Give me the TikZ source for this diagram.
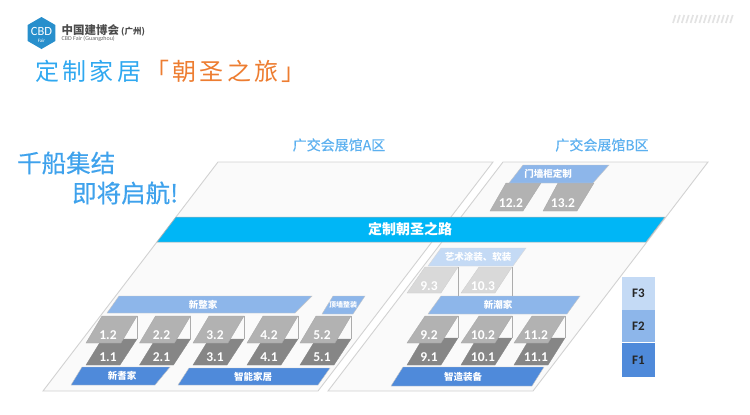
\documentclass[tikz,border=0pt]{standalone}
\usepackage{fontspec}
\setmainfont{Carlito}
\newfontfamily\cjk{Noto Sans CJK SC}
\newfontfamily\cjkmedio[FakeBold=0.4]{Noto Sans CJK SC}
\newfontfamily\cjkwide[LetterSpace=14]{Noto Sans CJK SC}
\usepackage{xcolor}
\usetikzlibrary{shapes.geometric, positioning}
\definecolor{azul_texto}{HTML}{3FA2EC}
\definecolor{azul_titulo}{HTML}{2FA8F0}
\definecolor{naranja_titulo}{HTML}{ED7D31}
\definecolor{azul_f1}{HTML}{4F8ADA}
\definecolor{azul_f2}{HTML}{8DB6EA}
\definecolor{azul_f3}{HTML}{C4DAF5}
\definecolor{azul_banda}{HTML}{00B6F6}
% Four corners, going round from the top left: style, name, x tl, x tr, x br, x bl, y top, y bottom
\newcommand{\slab}[8]{%
    \draw[#1] (#3,#7) coordinate (#2_tl) -- (#4,#7) coordinate (#2_tr) -- (#5,#8) coordinate (#2_br) -- (#6,#8) coordinate (#2_bl) -- cycle;%
}
\tikzset{
    box_suelo/.style={draw=gray!35, fill=gray!4, line width=0.9pt},
    box_banda/.style={draw=gray!60, fill=azul_banda, line width=0.5pt},
    box_f1/.style={draw=gray!45, fill=azul_f1, line width=0.4pt},
    box_f2/.style={draw=gray!45, fill=azul_f2, line width=0.4pt},
    box_f3/.style={draw=gray!30, fill=azul_f3, line width=0.4pt},
    box_oscuro/.style={fill=gray!95!white, draw=gray!95!white, line width=0.3pt},
    box_medio/.style={fill=gray!60!white, draw=gray!70, line width=0.3pt},
    box_claro/.style={fill=gray!30, draw=gray!40, line width=0.3pt},
    box_escala/.style={minimum width=33pt, inner sep=0pt, font=\fontsize{13}{13}\selectfont\bfseries, text=black!85},
    txt_zona/.style={font=\cjk\bfseries\fontsize{9.5}{10}\selectfont, text=white, inner sep=0pt},
    txt_stand/.style={font=\fontsize{13.5}{14}\selectfont\bfseries, text=white, inner sep=0pt},
    txt_sala/.style={font=\cjkmedio\fontsize{14}{15}\selectfont, text=azul_texto!85!white, inner sep=0pt},
    txt_lema/.style={font=\cjkmedio\fontsize{24.5}{26}\selectfont, text=azul_texto, inner sep=0pt, anchor=west},
    linea/.style={draw=gray!65, line width=0.7pt}
}
\begin{document}
\begin{tikzpicture}[x=1pt, y=-1pt]
    \useasboundingbox (0,0) rectangle (750,415);

    % 1. Cabecera
    \node[regular polygon, regular polygon sides=6, shape border rotate=30, fill=azul_titulo!85!black, minimum size=32pt, inner sep=0pt] (logo) at (41.5,33) {};
    \node[font=\fontsize{12.5}{13}\selectfont, text=white, inner sep=0pt] (logo_cbd) at (41.5,31) {CBD};
    \node[font=\fontsize{5}{5}\selectfont, text=white, inner sep=0pt] (logo_fair) at (41.5,41) {Fair};
    \node[font=\cjk\bfseries\fontsize{11.5}{12}\selectfont, text=black!70, inner sep=0pt, anchor=west] (feria) at (61.5,30) {中国建博会\,{\fontsize{8.5}{10}\selectfont(广州)}};
    \node[font=\fontsize{6}{6}\selectfont, text=black!60, inner sep=0pt, anchor=west] (feria_en) at (61.5,39) {CBD Fair (Guangzhou)};
    \foreach \i in {0,...,13}
        \draw[gray!22, line width=1.7pt] (673+\i*4.4,23) -- (675.5+\i*4.4,15);
    \node[font=\cjkwide\fontsize{24}{26}\selectfont, text=azul_titulo, inner sep=0pt, anchor=west] (titulo) at (35,71) {定制家居};
    \node[font=\cjkwide\fontsize{24}{26}\selectfont, text=naranja_titulo, inner sep=0pt, anchor=west] (viaje) at (145,71) {「朝圣之旅」};

    \node[txt_lema] (lema_a) at (17,163) {千船集结};
    \node[txt_lema] (lema_b) at (72,193) {即将启航!};

    % 2. Suelos de las dos zonas
    \slab{box_suelo}{zona_a}{218}{493}{318}{43}{162}{391}
    \slab{box_suelo}{zona_b}{503}{708}{533}{328}{162}{391}
    \node[txt_sala] (sala_a) at (339,145) {广交会展馆A区};
    \node[txt_sala] (sala_b) at (602,145) {广交会展馆B区};

    \slab{box_banda}{banda}{176}{665}{646}{157}{217}{242}
    \node[font=\cjk\bfseries\fontsize{14}{15}\selectfont, text=white, inner sep=0pt] (ruta) at (410,229.5) {定制朝圣之路};

    % 3. Zona A, fila de stands
    \foreach \n/\x in {1/86,2/139.5,3/193,4/247,5/300} {
        \slab{box_oscuro}{b\n1}{\x+16}{\x+51}{\x+34}{\x}{339}{365}
        \slab{box_medio}{b\n2}{\x+16}{\x+51}{\x+35}{\x}{316}{343}
        \draw[linea] (b\n2_tr) -- (b\n1_tr);
        \node[txt_stand] (t\n1) at (\x+22,357) {\n.1};
        \node[txt_stand] (t\n2) at (\x+22,335.5) {\n.2};
    }
    \slab{box_f2}{zheng}{119}{312}{295}{107}{296}{313}
    \node[txt_zona] (t_zheng) at (203,304.5) {新整家};
    \slab{box_f2}{techo}{333}{365}{353}{322}{296}{314}
    \node[txt_zona, font=\cjk\bfseries\fontsize{7}{8}\selectfont] (t_techo) at (343,304.5) {顶墙整装};
    \slab{box_f1}{qi}{82}{170}{155}{71}{367}{385}
    \node[txt_zona] (t_qi) at (122,376) {新耆家};
    \slab{box_f1}{casa}{189}{330}{318}{178}{368}{385}
    \node[txt_zona] (t_casa) at (253,376.5) {智能家居};

    % 4. Zona B, parte inferior
    \slab{box_f3}{arte}{441}{526}{513}{428}{248}{266}
    \node[txt_zona] (t_arte) at (478,256.5) {艺术涂装、软装};
    \foreach \n/\x in {9/407,10/461} {
        \slab{box_claro}{b\n3}{\x+18}{\x+51}{\x+34}{\x}{267}{293}
        \node[txt_stand] (t\n3) at (\x+22,286) {\n.3};
    }
    \foreach \n/\x in {9/407,10/461,11/514} {
        \slab{box_oscuro}{b\n1}{\x+16}{\x+51}{\x+34}{\x}{338}{365}
        \slab{box_medio}{b\n2}{\x+18}{\x+51}{\x+34}{\x}{316}{343}
        \draw[linea] (b\n2_tr) -- (b\n1_tr);
        \node[txt_stand] (t\n1) at (\x+22,357) {\n.1};
        \node[txt_stand] (t\n2) at (\x+22,335) {\n.2};
    }
    \slab{box_f2}{chao}{441}{580}{567}{428}{296}{314}
    \node[txt_zona] (t_chao) at (498,305) {新潮家};
    \draw[linea] (b93_tr) -- (b93_tr |- chao_tl);
    \draw[linea] (b103_tr) -- (b103_tr |- chao_tl);
    \slab{box_f1}{equipo}{403}{544}{532}{391}{367}{386}
    \node[txt_zona] (t_equipo) at (463,377) {智造装备};

    % 5. Zona B, parte superior
    \slab{box_medio}{b122}{506}{541}{523}{490}{183}{211}
    \slab{box_medio}{b132}{558}{594}{577}{543}{183}{211}
    \node[txt_stand] (t122) at (511,203) {12.2};
    \node[txt_stand] (t132) at (563,203) {13.2};
    \slab{box_f2}{puerta}{523}{609}{593}{509}{165}{183}
    \node[txt_zona] (t_puerta) at (548,174) {门墙柜定制};

    % 6. Escala de plantas
    \node[box_escala, fill=azul_f3, minimum height=33pt] (f3) at (638.5,293.5) {F3};
    \node[box_escala, fill=azul_f2, minimum height=32pt, below=0pt of f3] (f2) {F2};
    \node[box_escala, fill=azul_f1, minimum height=34pt, below=0pt of f2] (f1) {F1};
\end{tikzpicture}
\end{document}
